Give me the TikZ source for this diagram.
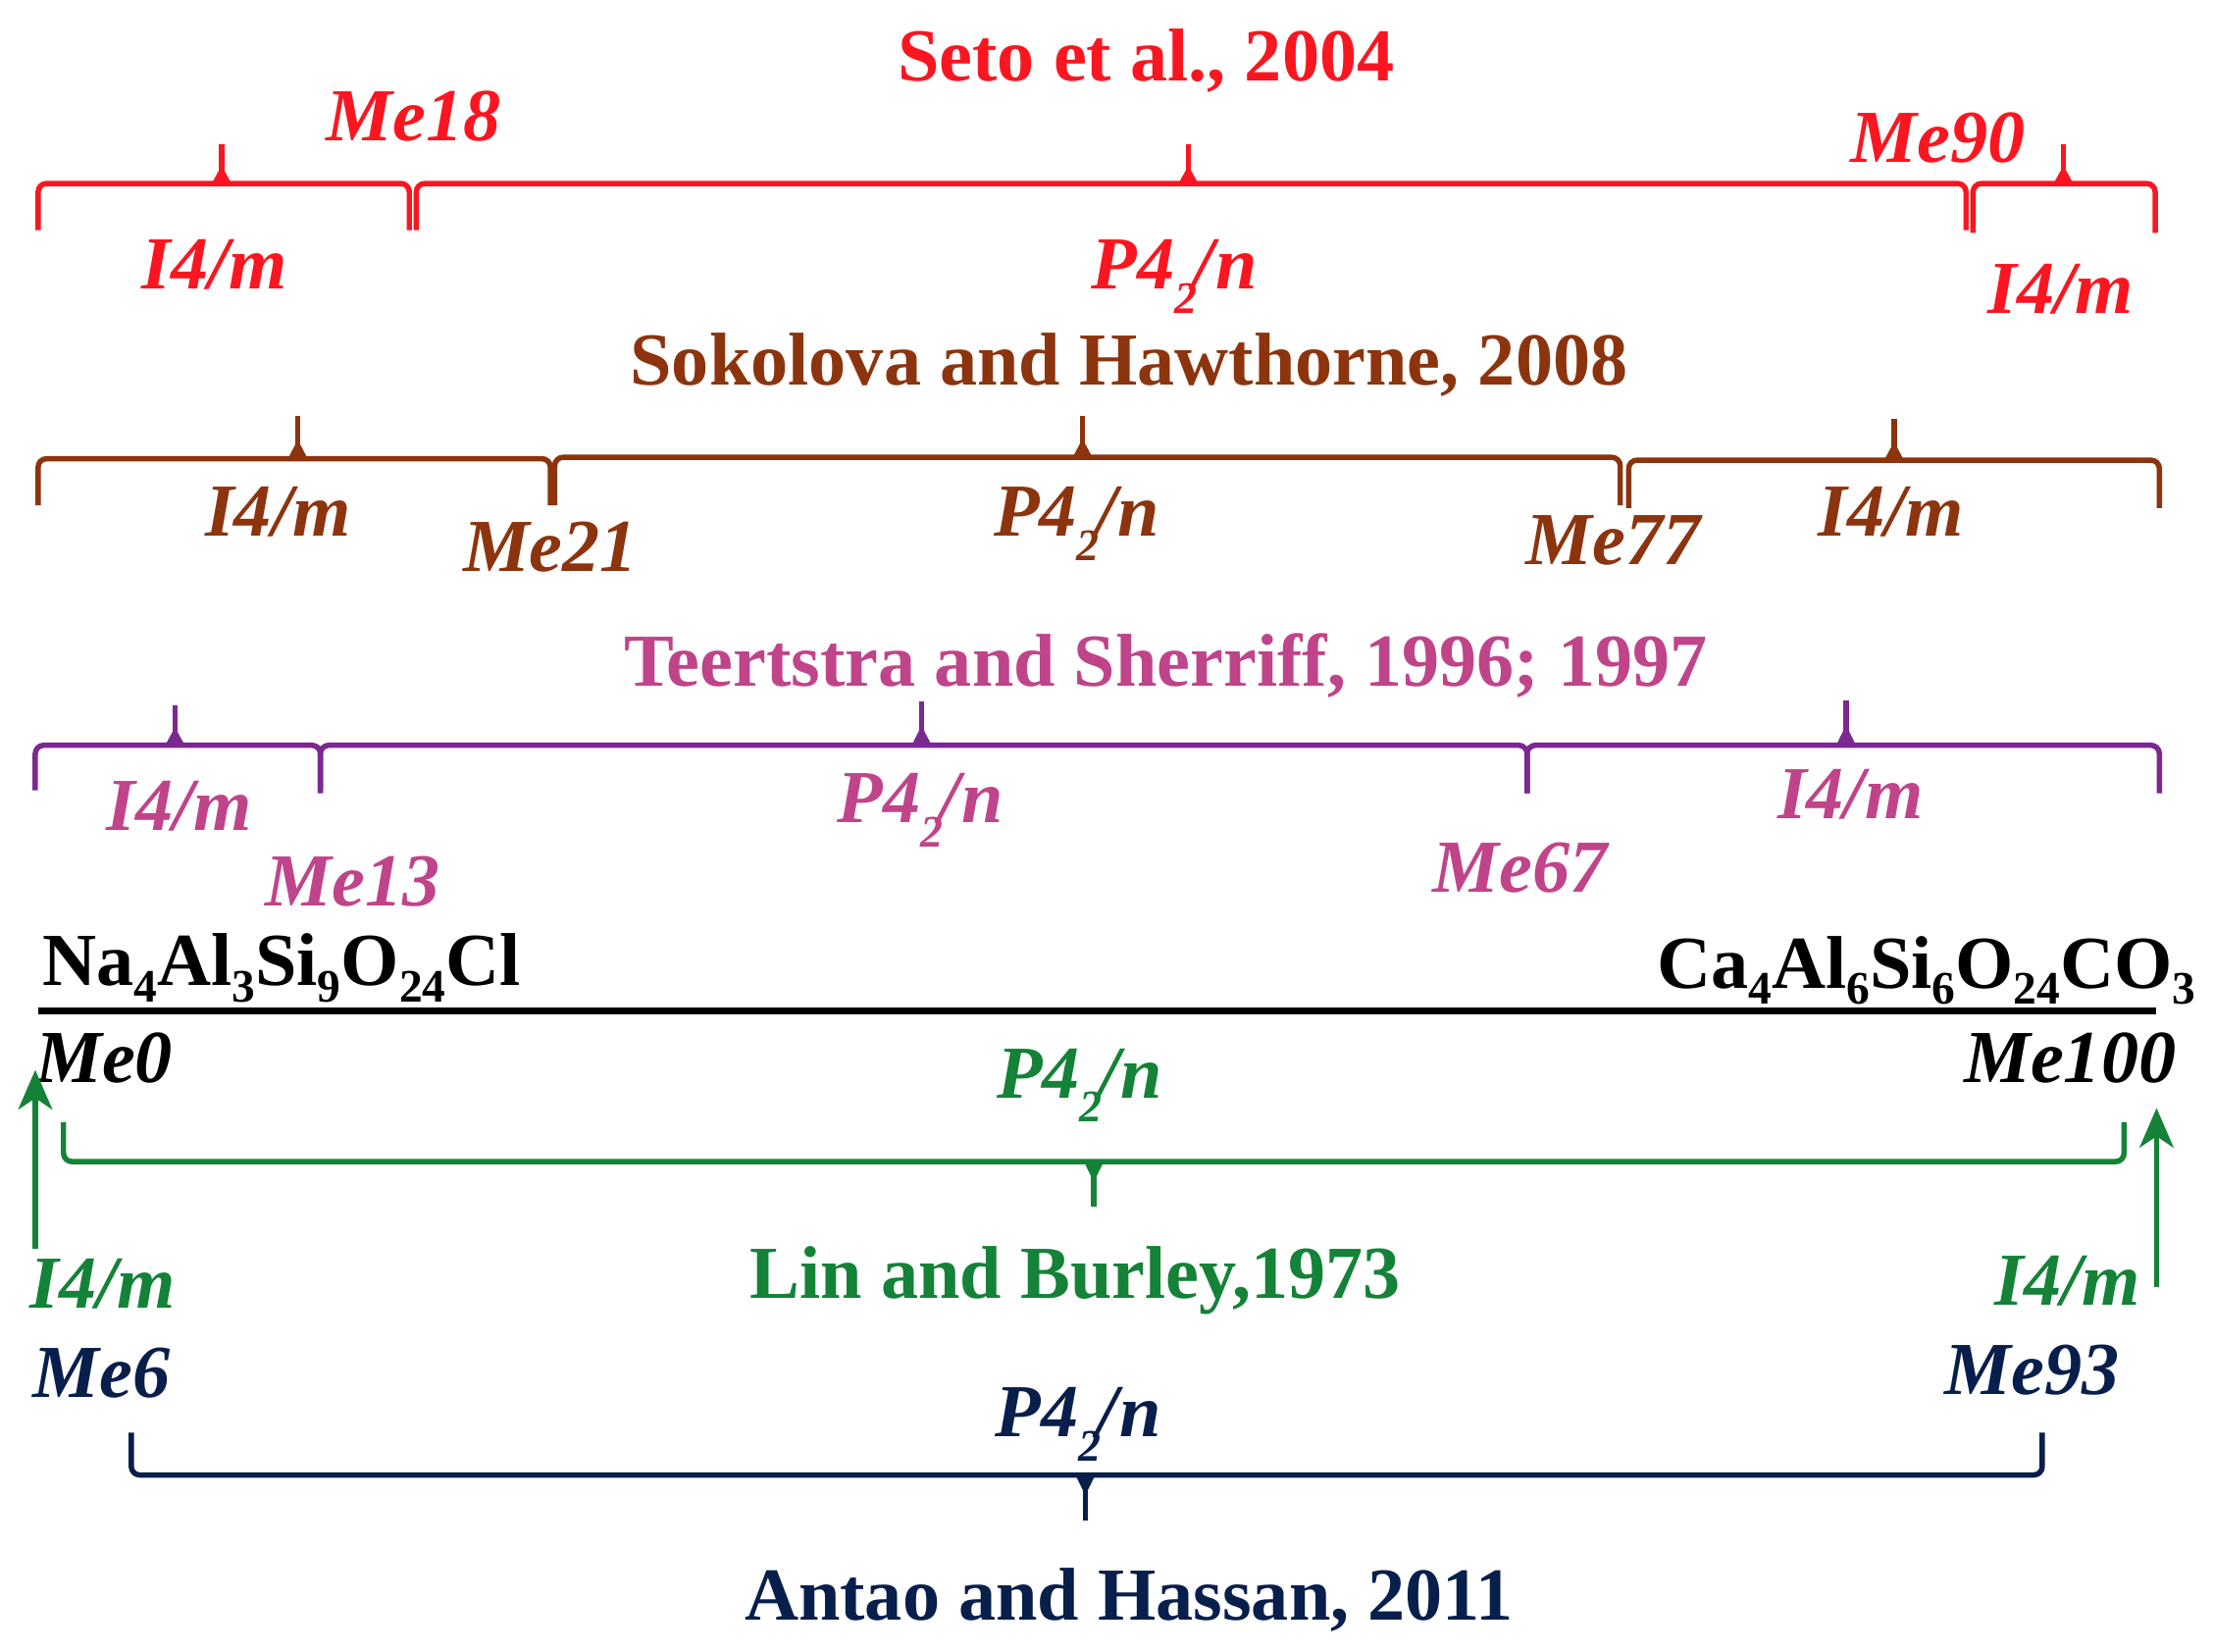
\documentclass[tikz,border=0pt]{standalone}
\usepackage{fontspec}
\usepackage{graphicx}
\setmainfont{Liberation Serif}
\usetikzlibrary{arrows.meta}
\definecolor{cred}{RGB}{250,22,32}
\definecolor{cbrown}{RGB}{140,52,14}
\definecolor{cpurple}{RGB}{123,40,145}
\definecolor{cpink}{RGB}{192,68,138}
\definecolor{cgreen}{RGB}{20,130,55}
\definecolor{cnavy}{RGB}{8,30,75}
\newcommand\sbx[1]{\raisebox{-0.22em}{\fontsize{33}{36}\selectfont #1}}
\newcommand\sbp[1]{\raisebox{-0.32em}{\fontsize{32}{36}\selectfont #1}}
\newcommand\Ptwo{P4\sbp{2}\kern-0.05em/\kern0.02em n}
% #1 colour, #2 x1, #3 x2, #4 tick x, #5 line y, #6 tick tip y, #7 ends y
\newcommand\brk[7]{%
  \draw[brline,#1,rounded corners=6pt] (#2,#7) -- (#2,#5) -- (#3,#5) -- (#3,#7);
  \draw[brline,#1] (#4,#5) -- (#4,#6);
  \fill[#1] (#4-7,#5) -- (#4,{#5+0.45*(#6-#5)}) -- (#4+7,#5) -- cycle;
}
\tikzset{
  txt/.style={inner sep=0pt, anchor=base, font=\fontsize{53}{60}\selectfont\bfseries},
  lab/.style={inner sep=0pt, anchor=base, font=\fontsize{53}{60}\selectfont\bfseries\itshape},
  brline/.style={line width=3.8pt},
  garrow/.style={cgreen,line width=3.8pt,-{Stealth[length=28pt,width=24pt,inset=8pt]}},
}
\begin{document}
\begin{tikzpicture}[x=1pt,y=-1pt]
\useasboundingbox[fill=white] (0,0) rectangle (1568,1170);

% ---------- Seto et al., 2004 (red)
\node[txt,text=cred] (t1) at (812,57) {Seto et al., 2004};
\brk{cred}{27}{290}{157}{130}{102}{163}
\brk{cred}{295}{1393}{842}{130}{102}{163}
\brk{cred}{1398}{1527}{1462}{130}{102}{165}
\node[lab,text=cred] (r1) at (293,100) {Me18};
\node[lab,text=cred] (r2) at (152,205) {I4/m};
\node[lab,text=cred] (r3) at (832,205) {\Ptwo};
\node[lab,text=cred] (r4) at (1373,115) {Me90};
\node[lab,text=cred] (r5) at (1460,222) {I4/m};

% ---------- Sokolova and Hawthorne, 2008 (brown)
\node[txt,text=cbrown] (t2) at (800,273) {Sokolova and Hawthorne, 2008};
\brk{cbrown}{27}{390}{211}{325}{295}{358}
\brk{cbrown}{393}{1148}{767}{324}{295}{358}
\brk{cbrown}{1154}{1530}{1342}{326}{297}{360}
\node[lab,text=cbrown] (b1) at (197,380) {I4/m};
\node[lab,text=cbrown] (b2) at (390,405) {Me21};
\node[lab,text=cbrown] (b3) at (763,380) {\Ptwo};
\node[lab,text=cbrown] (b4) at (1143,400) {Me77};
\node[lab,text=cbrown] (b5) at (1340,380) {I4/m};

% ---------- Teertstra and Sherriff (purple / pink)
\node[txt,text=cpink] (t3) at (826,486) {Teertstra and Sherriff, 1996; 1997};
\brk{cpurple}{25}{227}{124}{528}{500}{560}
\brk{cpurple}{227}{1082}{653}{528}{497}{562}
\brk{cpurple}{1082}{1530}{1308}{528}{496}{562}
\node[lab,text=cpink] (p1) at (127,588) {I4/m};
\node[lab,text=cpink] (p2) at (250,642) {Me13};
\node[lab,text=cpink] (p3) at (652,583) {\Ptwo};
\node[lab,text=cpink] (p4) at (1077,632) {Me67};
\node[lab,text=cpink] (p5) at (1311,580) {I4/m};

% ---------- composition axis (black)
\node[txt,anchor=base west] (na) at (30,698) {Na\sbx{4}Al\sbx{3}Si\sbx{9}O\sbx{24}Cl};
\node[txt,anchor=base east] (ca) at (1556,700) {Ca\sbx{4}Al\sbx{6}Si\sbx{6}O\sbx{24}CO\sbx{3}};
\coordinate (ax1) at (27,716);
\coordinate (ax2) at (1528,716);
\draw[line width=5pt] (ax1) -- (ax2);
\node[lab,anchor=base west] (m0) at (25,767) {Me0};
\node[lab,anchor=base east] (m100) at (1542,767) {Me100};

% ---------- Lin and Burley, 1973 (green)
\coordinate (ga1) at (25,885);
\coordinate (ga2) at (25,758);
\coordinate (gb1) at (1528,912);
\coordinate (gb2) at (1528,785);
\draw[garrow] (ga1) -- (ga2);
\draw[garrow] (gb1) -- (gb2);
\brk{cgreen}{45}{1505}{775}{823}{855}{795}
\node[lab,text=cgreen] (g1) at (765,778) {\Ptwo};
\node[txt,text=cgreen] (t4) at (762,920) {Lin and Burley,1973};
\node[lab,text=cgreen] (g2) at (73,927) {I4/m};
\node[lab,text=cgreen] (g3) at (1465,925) {I4/m};

% ---------- Antao and Hassan, 2011 (navy)
\node[lab,text=cnavy] (n1) at (72,990) {Me6};
\node[lab,text=cnavy] (n2) at (1440,988) {Me93};
\node[lab,text=cnavy] (n3) at (764,1018) {\Ptwo};
\brk{cnavy}{93}{1447}{769}{1045}{1077}{1015}
\node[txt,text=cnavy] (t5) at (800,1148) {Antao and Hassan, 2011};
\end{tikzpicture}
\end{document}
